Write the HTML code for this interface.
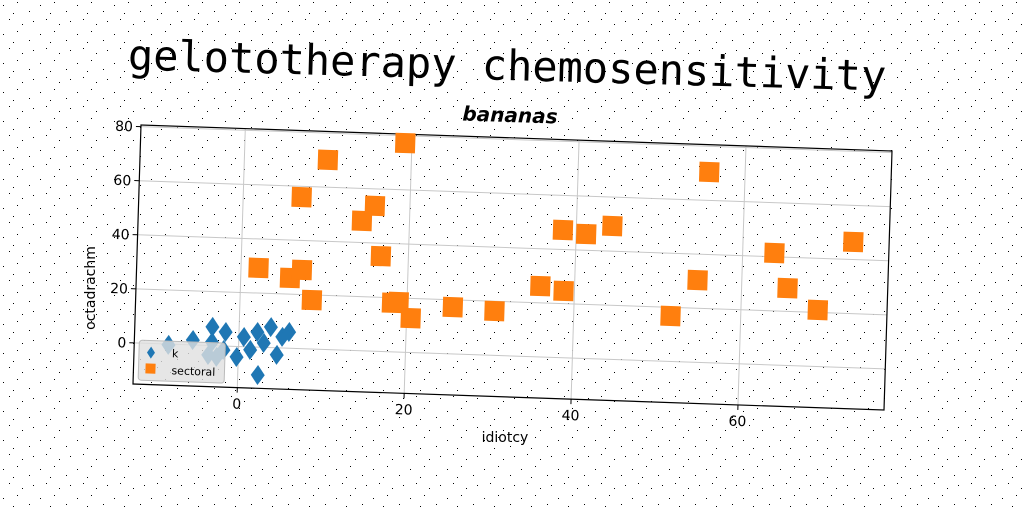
<!DOCTYPE html>
<html><head><meta charset="utf-8"><style>
body{margin:0;background:#fff;width:1024px;height:512px;overflow:hidden}
svg{display:block}
text{font-family:"DejaVu Sans","Liberation Sans",sans-serif}
</style></head><body>
<svg id="chart" width="1024" height="512" viewBox="0 0 1024 512" xmlns="http://www.w3.org/2000/svg">
<defs>
<pattern id="noise" width="37" height="29" patternUnits="userSpaceOnUse">
<rect x="3" y="5" width="1" height="1" fill="#000"/><rect x="17" y="2" width="1" height="1" fill="#000"/><rect x="29" y="11" width="1" height="1" fill="#000"/><rect x="9" y="19" width="1" height="1" fill="#000"/><rect x="22" y="24" width="1" height="1" fill="#000"/><rect x="33" y="21" width="1" height="1" fill="#000"/><rect x="13" y="13" width="1" height="1" fill="#000"/>
</pattern>
</defs>
<rect width="1024" height="512" fill="url(#noise)"/>
<text x="507" y="80" text-anchor="middle" font-size="42" transform="rotate(1.6 507 70)" style="font-family:'DejaVu Sans Mono','Liberation Mono',monospace">gelototherapy chemosensitivity</text>
<text x="510" y="122" text-anchor="middle" font-size="20" font-weight="bold" font-style="italic" transform="rotate(1.8 510 115)">bananas</text>
<text x="505" y="442" text-anchor="middle" font-size="14">idiotcy</text>
<text x="0" y="0" text-anchor="middle" font-size="14" transform="translate(95 288) rotate(-90)">octadrachm</text>
<g id="plot" transform="matrix(1,0.0346,-0.0309,1,141,125)"></g>
</svg>
<script>
const orangeX=[7,10,19.2,14.3,15.8,16.7,2.1,5.9,7.3,8.6,18.2,19.0,20.5,25.5,30.5,35.9,38.7,38.4,41.2,44.3,51.6,54.7,55.7,63.8,65.5,69.2,73.2];
const orangeY=[56,70.1,77.3,48,53.7,35.2,29.3,26,29.1,18.1,18.1,18.5,12.7,17.3,16.4,26.2,24.7,47.2,46,49.3,16.8,30.4,70.5,41.4,28.6,20.9,46.5];
const blueX=[-3.2,-1.6,-5.5,-8.4,-3.2,-1.8,-0.2,0.6,2.2,3.8,5.2,6.0,1.4,3.0,4.6,2.4,-2.6,-3.6];
const blueY=[6.9,5.2,1.8,-0.3,1.3,-1.5,-3.9,3.6,5.6,7.6,4.1,6.0,-1.1,1.6,-2.6,-10.3,-4.1,-3.5];
const xTicks=[0,20,40,60];
const yTicks=[0,20,40,60,80];
const W=751,H=259,xmin=-12.5,xmax=77.5,ymin=-15.2,ymax=80.6;
const sx=v=>(v-xmin)/(xmax-xmin)*W;
const sy=v=>(ymax-v)/(ymax-ymin)*H;
const NS='http://www.w3.org/2000/svg';
const g=document.getElementById('plot');
function mk(t,a){const e=document.createElementNS(NS,t);for(const k in a)e.setAttribute(k,a[k]);g.appendChild(e);return e;}
xTicks.forEach(v=>{
 const l=mk('line',{x1:sx(v),x2:sx(v),y1:0,y2:H,stroke:'#c8c8c8','stroke-width':1});
 
 
 const tk=mk('line',{x1:sx(v),x2:sx(v),y1:H,y2:H+5,stroke:'#000'});
 
 
 const t=mk('text',{x:sx(v),y:H+21,'text-anchor':'middle','font-size':14});
 t.textContent=v;
 
 
});
yTicks.forEach(v=>{
 const l=mk('line',{x1:0,x2:W,y1:sy(v),y2:sy(v),stroke:'#c8c8c8','stroke-width':1});
 
 
 const tk=mk('line',{x1:-5,x2:0,y1:sy(v),y2:sy(v),stroke:'#000'});
 
 
 const t=mk('text',{x:-8,y:sy(v)+5,'text-anchor':'end','font-size':14});
 t.textContent=v;
 
 
});
const fr=mk('rect',{x:0,y:0,width:W,height:H,fill:'none',stroke:'#000','stroke-width':1.2});


orangeX.forEach((v,i)=>{
 const r=mk('rect',{x:sx(v)-10,y:sy(orangeY[i])-10,width:20,height:20,fill:'#ff7f0e'});
 
 
});
blueX.forEach((v,i)=>{
 const cx=sx(v),cy=sy(blueY[i]);
 const p=mk('path',{d:`M${cx} ${cy-10}L${cx+7} ${cy}L${cx} ${cy+10}L${cx-7} ${cy}Z`,fill:'#1f77b4'});
 
 
});
const lg=mk('rect',{x:5,y:215,width:86,height:40,rx:3,fill:'#e0e0e0','fill-opacity':0.8,stroke:'#bbb'});


const ld=mk('path',{d:'M17 221L21 227L17 233L13 227Z',fill:'#1f77b4'});


const lt1=mk('text',{x:38,y:231,'font-size':11});lt1.textContent='k';


const ls=mk('rect',{x:12,y:238,width:10,height:10,fill:'#ff7f0e'});


const lt2=mk('text',{x:38,y:248,'font-size':11});lt2.textContent='sectoral';


</script>
</body></html>
